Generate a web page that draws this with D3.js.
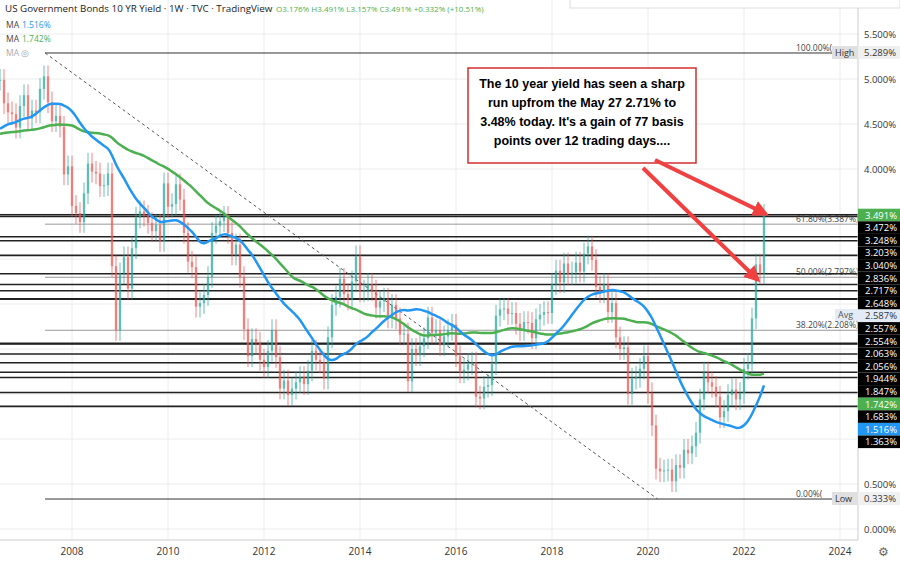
<!DOCTYPE html>
<html><head><meta charset="utf-8">
<script src="https://cdn.jsdelivr.net/npm/d3@7"></script>
<style>body{margin:0;background:#fff;font-family:"Open Sans",sans-serif}</style>
</head><body>
<script>
// monthly closes before the visible range, used only to seed the moving averages (Jul 2003 .. Jun 2006)
var priorCloses = [4.41,4.46,3.96,4.30,4.33,4.27,
  4.16,3.99,3.86,4.51,4.66,4.62,4.50,4.13,4.14,4.05,4.36,4.24,
  4.14,4.38,4.50,4.21,4.00,3.94,4.28,4.02,4.34,4.57,4.49,4.39,
  4.53,4.55,4.85,5.07,5.12,5.14]
// monthly closes, Jul 2006 .. Jun 2022
var startYear = 2006.5
var closes = [4.99,4.73,4.63,4.61,4.46,4.70,
  4.82,4.56,4.65,4.63,4.89,5.03,4.74,4.53,4.59,4.47,3.94,4.03,
  3.59,3.51,3.41,3.73,4.06,3.97,3.95,3.81,3.82,3.95,2.92,2.21,
  2.84,3.02,2.67,3.12,3.46,3.53,3.48,3.40,3.31,3.38,3.20,3.84,
  3.58,3.61,3.83,3.66,3.29,2.97,2.91,2.47,2.51,2.60,2.80,3.29,
  3.37,3.42,3.47,3.29,3.05,3.16,2.80,2.22,1.92,2.11,2.07,1.88,
  1.80,1.98,2.21,1.91,1.56,1.65,1.49,1.56,1.63,1.69,1.61,1.76,
  1.98,1.88,1.85,1.67,2.13,2.49,2.58,2.78,2.61,2.55,2.75,3.03,
  2.64,2.65,2.72,2.65,2.46,2.53,2.56,2.35,2.49,2.34,2.16,2.17,
  1.64,2.00,1.93,2.03,2.12,2.35,2.18,2.21,2.04,2.14,2.21,2.27,
  1.92,1.74,1.77,1.83,1.85,1.47,1.45,1.58,1.60,1.83,2.37,2.44,
  2.45,2.39,2.40,2.28,2.21,2.30,2.29,2.12,2.33,2.38,2.41,2.40,
  2.72,2.87,2.74,2.95,2.83,2.85,2.96,2.86,3.06,3.14,2.99,2.69,
  2.63,2.72,2.41,2.51,2.13,2.00,2.02,1.50,1.67,1.69,1.78,1.92,
  1.51,1.15,0.67,0.64,0.65,0.66,0.53,0.71,0.68,0.88,0.84,0.92,
  1.07,1.44,1.74,1.63,1.58,1.47,1.24,1.31,1.49,1.55,1.44,1.51,
  1.78,1.83,2.34,2.94,2.84,3.49]
var levels = [3.491,3.472,3.248,3.203,3.040,2.836,2.717,2.648,2.557,2.554,2.063,2.056,1.944,1.847,1.742,1.683,1.516,1.363]
var tagLabels = ['3.491%','3.472%','3.248%','3.203%','3.040%','2.836%','2.717%','2.648%','2.587%','2.557%','2.554%','2.063%','2.056%','1.944%','1.847%','1.742%','1.683%','1.516%','1.363%']
var tagColors = {'3.491%':'#4caf50','1.742%':'#4caf50','1.516%':'#2196f3','2.587%':'avg'}
var fibs = [['100.00%(5.289%)',5.289],['61.80%(3.387%)',3.387],['50.00%(2.797%)',2.797],['38.20%(2.208%)',2.208],['0.00%(0.333%)',0.333]]
var yTicks = [5.5,5,4.5,4,0.5,0]
var xYears = [2008,2010,2012,2014,2016,2018,2020,2022,2024]

var W = 900, H = 566, plotR = 858, plotB = 540
var svg = d3.select('body').append('svg').attr('width', W).attr('height', H)
var x = d3.scaleLinear().domain([2008, 2024]).range([72, 840])
var y = d3.scaleLinear().domain([0, 5.5]).range([529, 34])
var tOf = function(i) { return startYear + i / 12 }
var defs = svg.append('defs')
defs.append('clipPath').attr('id', 'endclip')
  .append('rect').attr('x', 0).attr('y', 0).attr('width', 830).attr('height', H)

// grid
svg.append('g').selectAll('line').data(xYears).join('line')
  .attr('x1', d => x(d)).attr('x2', d => x(d)).attr('y1', 0).attr('y2', plotB)
  .attr('stroke', '#ececec')
svg.append('g').selectAll('line').data(d3.range(0, 5.51, 0.5)).join('line')
  .attr('x1', 0).attr('x2', plotR).attr('y1', d => y(d)).attr('y2', d => y(d))
  .attr('stroke', '#ececec')

// horizontal levels
svg.append('g').selectAll('line').data(levels).join('line')
  .attr('x1', 0).attr('x2', plotR).attr('y1', d => y(d)).attr('y2', d => y(d))
  .attr('stroke', '#222').attr('stroke-width', 1.6)
svg.append('line').attr('x1', 45).attr('x2', plotR).attr('y1', y(5.289)).attr('y2', y(5.289)).attr('stroke', '#333')
svg.append('line').attr('x1', 45).attr('x2', plotR).attr('y1', y(0.333)).attr('y2', y(0.333)).attr('stroke', '#333')
fibs.forEach(function(f) {
  var ends = f[1] > 5 || f[1] < 0.4
  if (!ends) svg.append('line').attr('x1', 45).attr('x2', plotR).attr('y1', y(f[1])).attr('y2', y(f[1])).attr('stroke', '#999')
  var t = svg.append('text').attr('x', 796).attr('y', y(f[1]) - 2).attr('font-size', 8.5).attr('fill', '#444')
  // the High / Low tags hide the tail of these two labels
  t.text(ends ? f[0].slice(0, f[0].indexOf('(') + 1) : f[0])
})
// dashed trend line
svg.append('line').attr('x1', x(2007.44)).attr('y1', y(5.289)).attr('x2', x(2020.2)).attr('y2', y(0.333))
  .attr('stroke', '#555').attr('stroke-dasharray', '3,3')

// candles
var cw = 48 / 12 * 0.6
var candle = svg.append('g').selectAll('g').data(closes).join('g')
candle.each(function(c, i) {
  var o = i ? closes[i - 1] : c
  var up = c >= o, col = up ? '#26a69a' : '#ef5350'
  var g = d3.select(this), cx = x(tOf(i))
  g.append('line').attr('x1', cx).attr('x2', cx)
    .attr('y1', y(Math.max(o, c) + 0.12)).attr('y2', y(Math.min(o, c) - 0.12))
    .attr('stroke', col).attr('opacity', 0.7)
  g.append('rect').attr('x', cx - cw / 2).attr('width', cw)
    .attr('y', y(Math.max(o, c))).attr('height', Math.max(1, Math.abs(y(o) - y(c))))
    .attr('fill', col).attr('opacity', 0.6)
})

// moving averages (100 and 200 weeks ~ 23 and 46 months)
var all = priorCloses.concat(closes)
function ma(n) {
  return closes.map(function(c, i) {
    var j = i + priorCloses.length
    return d3.mean(all.slice(Math.max(0, j - n + 1), j + 1))
  })
}
var line = d3.line().x((d, i) => x(tOf(i))).y(d => y(d)).curve(d3.curveBasis)
svg.append('path').attr('d', line(ma(46))).attr('fill', 'none').attr('stroke', '#4caf50').attr('stroke-width', 2.5)
svg.append('path').attr('d', line(ma(23))).attr('fill', 'none').attr('stroke', '#2196f3').attr('stroke-width', 2.5)

// annotation
svg.append('rect').attr('x', 468).attr('y', 68).attr('width', 228).attr('height', 95)
  .attr('fill', '#fff').attr('stroke', '#d32f2f').attr('stroke-width', 1.5)
var note = ['The 10 year yield has seen a sharp', 'run upfrom the May 27 2.71% to', '3.48% today. It\'s a gain of 77 basis', 'points over 12 trading days....']
svg.append('g').selectAll('text').data(note).join('text')
  .attr('x', 582).attr('y', (d, i) => 88 + i * 19).attr('text-anchor', 'middle')
  .attr('font-family', 'Arial, Liberation Sans').attr('font-weight', 'bold').attr('font-size', 12.5).text(d => d)
defs.append('marker').attr('id', 'ah').attr('viewBox', '0 0 10 10').attr('refX', 8).attr('refY', 5)
  .attr('markerWidth', 4).attr('markerHeight', 4).attr('orient', 'auto')
  .append('path').attr('d', 'M0,0L10,5L0,10z').attr('fill', '#f04040')
;[[655, 160, 766, 214], [643, 168, 758, 280]].forEach(function(a) {
  svg.append('line').attr('x1', a[0]).attr('y1', a[1]).attr('x2', a[2]).attr('y2', a[3])
    .attr('stroke', '#f04040').attr('stroke-width', 4).attr('marker-end', 'url(#ah)')
})

// right axis
svg.append('rect').attr('x', plotR).attr('y', 0).attr('width', W - plotR).attr('height', H).attr('fill', '#fff')
svg.append('line').attr('x1', plotR).attr('x2', plotR).attr('y1', 0).attr('y2', plotB).attr('stroke', '#ccc')
svg.append('g').selectAll('text').data(yTicks).join('text')
  .attr('x', 864).attr('y', d => y(d) + 4).attr('font-size', 9.5).attr('fill', '#333')
  .text(d => d3.format('.3f')(d) + '%')
var tags = svg.append('g').selectAll('g').data(tagLabels).join('g')
  .attr('transform', (d, i) => 'translate(' + plotR + ',' + (215 + i * 12.6) + ')')
tags.append('rect').attr('x', 0).attr('y', -6.3).attr('width', 42).attr('height', 12.6)
  .attr('fill', d => tagColors[d] === 'avg' ? '#e3ebf7' : (tagColors[d] || '#000'))
tags.append('text').attr('x', 7).attr('y', 3.5).attr('font-size', 9.5)
  .attr('fill', d => tagColors[d] === 'avg' ? '#333' : '#fff').text(d => d)
svg.append('rect').attr('x', 835).attr('y', 309).attr('width', 23).attr('height', 12).attr('fill', '#e3ebf7')
svg.append('text').attr('x', 838).attr('y', 318).attr('font-size', 9).attr('fill', '#555').text('Avg')
;[['High', '5.289%', 5.289], ['Low', '0.333%', 0.333]].forEach(function(h) {
  svg.append('rect').attr('x', 832).attr('y', y(h[2]) - 7).attr('width', 68).attr('height', 13).attr('fill', '#e0e0e0')
  svg.append('text').attr('x', 835).attr('y', y(h[2]) + 3).attr('font-size', 9).attr('fill', '#333').text(h[0])
  svg.append('rect').attr('x', plotR).attr('y', y(h[2]) - 7).attr('width', 42).attr('height', 13).attr('fill', '#f0f0f0')
  svg.append('text').attr('x', 864).attr('y', y(h[2]) + 3).attr('font-size', 9.5).attr('fill', '#333').text(h[1])
})

// bottom axis
svg.append('rect').attr('x', 0).attr('y', plotB).attr('width', W).attr('height', H - plotB).attr('fill', '#fff')
svg.append('line').attr('x1', 0).attr('x2', plotR).attr('y1', plotB).attr('y2', plotB).attr('stroke', '#ccc')
svg.append('g').selectAll('text').data(xYears).join('text')
  .attr('x', d => x(d)).attr('y', 555).attr('text-anchor', 'middle').attr('font-size', 10).attr('fill', '#333').text(d => d)
svg.append('text').attr('x', 878).attr('y', 556).attr('font-size', 12).attr('fill', '#666').text('⚙')

// header
svg.append('rect').attr('x', 570).attr('y', -1).attr('width', 330).attr('height', 9).attr('fill', '#fff').attr('stroke', '#ddd')
svg.append('text').attr('x', 5).attr('y', 12).attr('font-size', 9.8).attr('fill', '#222')
  .text('US Government Bonds 10 YR Yield · 1W · TVC · TradingView')
svg.append('text').attr('x', 276).attr('y', 12).attr('font-size', 8).attr('fill', '#4caf50')
  .text('O3.176% H3.491% L3.157% C3.491% +0.332% (+10.51%)')
;[['MA', '1.516%', '#2196f3', 28], ['MA', '1.742%', '#4caf50', 42]].forEach(function(m) {
  svg.append('text').attr('x', 6).attr('y', m[3]).attr('font-size', 8.5).attr('fill', '#444').text(m[0])
  svg.append('text').attr('x', 22).attr('y', m[3]).attr('font-size', 8.5).attr('fill', m[2]).text(m[1])
})
svg.append('text').attr('x', 6).attr('y', 56).attr('font-size', 8.5).attr('fill', '#aaa').text('MA ◎')
</script>
</body></html>
